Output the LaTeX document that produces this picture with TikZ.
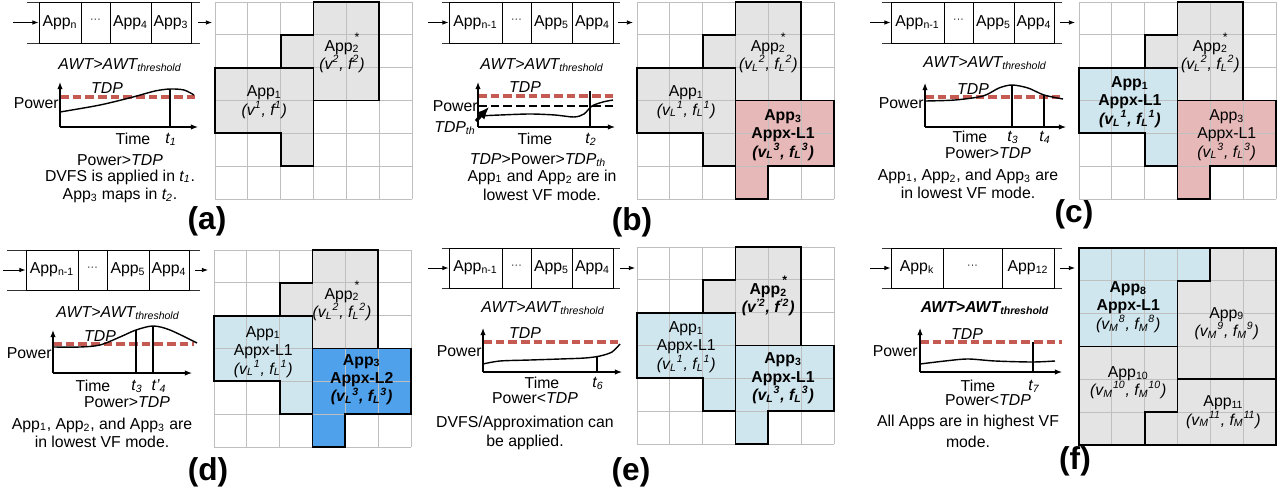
\documentclass[tikz,border=0pt]{standalone}
\usepackage{fontspec}
\setmainfont{Liberation Sans}
\usetikzlibrary{arrows.meta}
\definecolor{regGray}{HTML}{E4E4E4}
\definecolor{regPink}{HTML}{E6B9B8}
\definecolor{regLBlue}{HTML}{CFE6EE}
\definecolor{regBlue}{HTML}{4FA1EC}
\definecolor{tdpRed}{HTML}{C55A52}
\newcommand{\fs}{\fontsize{9}{10.5}\selectfont}
\newcommand{\sbs}[1]{\textsubscript{#1}}
\newcommand{\sps}[1]{\textsuperscript{#1}}
\newcommand{\appstar}{App\sbs{2}\llap{\raisebox{1.15ex}{\fontsize{7}{7}\selectfont *}}}
\newcommand{\qdots}{{\fontsize{6}{7}\selectfont\raisebox{0.5ex}{···}}}
\newcommand{\cellgrid}{\foreach \i in {0,...,6} {\draw[gridl] (\i,0) -- (\i,6); \draw[gridl] (0,\i) -- (6,\i);}}
\newcommand{\shapeOne}[1]{\path[#1] (0,2) -- (3,2) -- (3,5) -- (2,5) -- (2,4) -- (0,4) -- cycle;}
\newcommand{\shapeTwo}[1]{\path[#1] (3,0) -- (5,0) -- (5,3) -- (3,3) -- (3,2) -- (2,2) -- (2,1) -- (3,1) -- cycle;}
\newcommand{\shapeThree}[1]{\path[#1] (3,3) -- (6,3) -- (6,5) -- (4,5) -- (4,6) -- (3,6) -- cycle;}
\def\px{0.02cm}
\def\cell{0.6566cm}
\tikzset{
  qcell/.style={draw, line width=0.5pt, minimum height={41*\px}, inner sep=0pt, font=\fs},
  qline/.style={line width=0.5pt, draw=black!80},
  qarrow/.style={-{Latex[length=3.5pt,width=2.6pt]}, line width=0.5pt},
  gridl/.style={draw=black!25, line width=0.5pt},
  region/.style={draw=black, line width=1.1pt, line join=miter},
  tdp/.style={draw=tdpRed, line width=1.9pt, dash pattern=on 5pt off 2.2pt},
  blackdash/.style={draw=black, line width=1.7pt, dash pattern=on 5pt off 2.2pt},
  axis/.style={-{Latex[length=4pt,width=3pt]}, line width=0.6pt},
  curve/.style={line width=0.8pt},
  tthick/.style={line width=1.3pt},
  tthin/.style={line width=0.9pt},
  lbl/.style={font=\fs, inner sep=0pt},
  glbl/.style={font=\fs, inner sep=0pt, align=center},
  panellbl/.style={font=\fontsize{18}{20}\selectfont\bfseries, inner sep=0pt}
}
\begin{document}
\begin{tikzpicture}[x=0.02cm, y=-0.02cm]
\useasboundingbox (0,0) rectangle (1282,490);

%%%%%%%%%%%%%%%% (a)
\draw[qline] (27,2) -- (200,2);
\draw[qline] (27,43) -- (200,43);
\node[qcell, minimum width={42*\px}] (a-q1) at (60,22.5) {App\sbs{n}};
\node[qcell, minimum width={29*\px}] (a-q2) at (95.5,22.5) {\qdots};
\node[qcell, minimum width={41*\px}] (a-q3) at (130.5,22.5) {App\sbs{4}};
\node[qcell, minimum width={40*\px}] (a-q4) at (171,22.5) {App\sbs{3}};
\coordinate (a-in) at (13,22.5);
\coordinate (a-out1) at (198,22.5);
\coordinate (a-out2) at (212,22.5);
\draw[qarrow] (a-in) -- (a-q1);
\draw[qarrow] (a-out1) -- (a-out2);
\node[lbl] (a-awt) at (120,65) {\textit{AWT>AWT\sbs{threshold}}};
\coordinate (a-o) at (60,127); \coordinate (a-yt) at (60,82); \coordinate (a-xr) at (198,127);
\coordinate (a-d1) at (60,97); \coordinate (a-d2) at (198,97);
\draw[tdp] (a-d1) -- (a-d2);
\draw[axis] (a-o) -- (a-yt);
\draw[axis] (a-o) -- (a-xr);
\draw[curve] plot[smooth] coordinates {(60,112) (100,105) (133,97) (155,91) (170,89) (184,90) (194,95)};
\coordinate (a-t1a) at (170,89); \coordinate (a-t1b) at (170,127);
\draw[tthick] (a-t1a) -- (a-t1b);
\node[lbl] (a-tdp) at (107,88) {\textit{TDP}};
\node[lbl, anchor=east] (a-pow) at (59,103) {Power};
\node[lbl] (a-time) at (133,139) {Time};
\node[lbl] (a-t1) at (171,139) {\textit{t\sbs{1}}};
\node[lbl] (a-c1) at (120,160) {Power>\textit{TDP}};
\node[lbl] (a-c2) at (120,177) {DVFS is applied in \textit{t\sbs{1}}.};
\node[lbl] (a-c3) at (120,195) {App\sbs{3} maps in \textit{t\sbs{2}}.};
\node[panellbl] (a-lab) at (207,221) {(a)};
\begin{scope}[shift={(215,2)}, x=\cell, y=-\cell]
  \shapeOne{fill=regGray}
  \shapeTwo{fill=regGray}
  \cellgrid
  \shapeOne{region}
  \shapeTwo{region}
  \node[glbl] (a-app1) at (1.5,3.05) {App\sbs{1}\\\textit{(v\sps{1}, f\sps{1})}};
  \node[glbl] (a-app2) at (3.87,1.55) {\appstar\\\textit{(v\sps{2}, f\sps{2})}};
\end{scope}

%%%%%%%%%%%%%%%% (b)
\draw[qline] (442,2) -- (620,2);
\draw[qline] (442,43) -- (620,43);
\node[qcell, minimum width={53*\px}] (b-q1) at (475.5,22.5) {App\sbs{n-1}};
\node[qcell, minimum width={29*\px}] (b-q2) at (516.5,22.5) {\qdots};
\node[qcell, minimum width={41*\px}] (b-q3) at (551.5,22.5) {App\sbs{5}};
\node[qcell, minimum width={41*\px}] (b-q4) at (592.5,22.5) {App\sbs{4}};
\coordinate (b-in) at (428,22.5);
\coordinate (b-out1) at (618,22.5);
\coordinate (b-out2) at (633,22.5);
\draw[qarrow] (b-in) -- (b-q1);
\draw[qarrow] (b-out1) -- (b-out2);
\node[lbl] (b-awt) at (542,65) {\textit{AWT>AWT\sbs{threshold}}};
\coordinate (b-o) at (478,127); \coordinate (b-yt) at (478,82); \coordinate (b-xr) at (615,127);
\coordinate (b-d1) at (478,96); \coordinate (b-d2) at (613,96);
\coordinate (b-e1) at (478,106); \coordinate (b-e2) at (613,106);
\draw[tdp] (b-d1) -- (b-d2);
\draw[blackdash] (b-e1) -- (b-e2);
\draw[axis] (b-o) -- (b-yt);
\draw[axis] (b-o) -- (b-xr);
\draw[curve] plot[smooth] coordinates {(478,116) (500,115) (530,114) (555,115) (574,117) (584,114) (592,106) (603,102) (613,100)};
\coordinate (b-t2a) at (590,91); \coordinate (b-t2b) at (590,127);
\draw[tthin] (b-t2a) -- (b-t2b);
\node[lbl] (b-tdp) at (525,87) {\textit{TDP}};
\node[lbl, anchor=east] (b-pow) at (478,106) {Power};
\node[lbl] (b-tdpth) at (455,128) {\textit{TDP\sbs{th}}};
\coordinate (b-arr) at (489,107);
\draw[line width=1.8pt, -{Latex[length=7pt,width=6pt]}] (b-tdpth.north east) -- (b-arr);
\node[lbl] (b-time) at (535,139) {Time};
\node[lbl] (b-t2) at (591,139) {\textit{t\sbs{2}}};
\node[lbl] (b-c1) at (538,160) {\textit{TDP}>Power>\textit{TDP\sbs{th}}};
\node[lbl] (b-c2) at (542,177) {App\sbs{1} and App\sbs{2} are in};
\node[lbl] (b-c3) at (542,195) {lowest VF mode.};
\node[panellbl] (b-lab) at (632,222) {(b)};
\begin{scope}[shift={(637,2)}, x=\cell, y=-\cell]
  \shapeOne{fill=regGray}
  \shapeTwo{fill=regGray}
  \shapeThree{fill=regPink}
  \cellgrid
  \shapeOne{region}
  \shapeTwo{region}
  \shapeThree{region}
  \node[glbl] (b-app1) at (1.5,3.05) {App\sbs{1}\\\textit{(v\sbs{L}\sps{1}, f\sbs{L}\sps{1})}};
  \node[glbl] (b-app2) at (4.0,1.55) {\appstar\\\textit{(v\sbs{L}\sps{2}, f\sbs{L}\sps{2})}};
  \node[glbl, font=\fs\bfseries] (b-app3) at (4.45,4.05) {App\sbs{3}\\Appx-L1\\\textit{(v\sbs{L}\sps{3}, f\sbs{L}\sps{3})}};
\end{scope}

%%%%%%%%%%%%%%%% (c)
\draw[qline] (882,2) -- (1062,2);
\draw[qline] (882,43) -- (1062,43);
\node[qcell, minimum width={53*\px}] (c-q1) at (917.5,22.5) {App\sbs{n-1}};
\node[qcell, minimum width={29*\px}] (c-q2) at (958.5,22.5) {\qdots};
\node[qcell, minimum width={41*\px}] (c-q3) at (993.5,22.5) {App\sbs{5}};
\node[qcell, minimum width={40*\px}] (c-q4) at (1034,22.5) {App\sbs{4}};
\coordinate (c-in) at (870,22.5);
\coordinate (c-out1) at (1060,22.5);
\coordinate (c-out2) at (1075,22.5);
\draw[qarrow] (c-in) -- (c-q1);
\draw[qarrow] (c-out1) -- (c-out2);
\node[lbl] (c-awt) at (985,63) {\textit{AWT>AWT\sbs{threshold}}};
\coordinate (c-o) at (925,127); \coordinate (c-yt) at (925,83); \coordinate (c-xr) at (1066,127);
\coordinate (c-d1) at (925,97); \coordinate (c-d2) at (1062,97);
\draw[tdp] (c-d1) -- (c-d2);
\draw[axis] (c-o) -- (c-yt);
\draw[axis] (c-o) -- (c-xr);
\draw[curve] plot[smooth] coordinates {(925,101) (955,100) (983,96) (999,88) (1012,85) (1028,88) (1044,95) (1063,99)};
\coordinate (c-t3a) at (1012,85); \coordinate (c-t3b) at (1012,127);
\coordinate (c-t4a) at (1044,95); \coordinate (c-t4b) at (1044,127);
\draw[tthin] (c-t3a) -- (c-t3b);
\draw[tthin] (c-t4a) -- (c-t4b);
\node[lbl] (c-tdp) at (973,89) {\textit{TDP}};
\node[lbl, anchor=east] (c-pow) at (924,103) {Power};
\node[lbl] (c-time) at (970,137) {Time};
\node[lbl] (c-t3) at (1013,137) {\textit{t\sbs{3}}};
\node[lbl] (c-t4) at (1045,137) {\textit{t\sbs{4}}};
\node[lbl] (c-c1) at (988,153) {Power>\textit{TDP}};
\node[lbl] (c-c2) at (968,176) {App\sbs{1}, App\sbs{2}, and App\sbs{3} are};
\node[lbl] (c-c3) at (968,193) {in lowest VF mode.};
\node[panellbl] (c-lab) at (1074,214) {(c)};
\begin{scope}[shift={(1079,2)}, x=\cell, y=-\cell]
  \shapeOne{fill=regLBlue}
  \shapeTwo{fill=regGray}
  \shapeThree{fill=regPink}
  \cellgrid
  \shapeOne{region}
  \shapeTwo{region}
  \shapeThree{region}
  \node[glbl, font=\fs\bfseries] (c-app1) at (1.55,3.05) {App\sbs{1}\\Appx-L1\\\textit{(v\sbs{L}\sps{1}, f\sbs{L}\sps{1})}};
  \node[glbl] (c-app2) at (4.0,1.55) {\appstar\\\textit{(v\sbs{L}\sps{2}, f\sbs{L}\sps{2})}};
  \node[glbl] (c-app3) at (4.5,4.05) {App\sbs{3}\\Appx-L1\\\textit{(v\sbs{L}\sps{3}, f\sbs{L}\sps{3})}};
\end{scope}

%%%%%%%%%%%%%%%% (d)
\draw[qline] (7,250) -- (200,250);
\draw[qline] (7,290) -- (200,290);
\node[qcell, minimum width={52*\px}, minimum height={40*\px}] (d-q1) at (52,270) {App\sbs{n-1}};
\node[qcell, minimum width={29*\px}, minimum height={40*\px}] (d-q2) at (92.5,270) {\qdots};
\node[qcell, minimum width={42*\px}, minimum height={40*\px}] (d-q3) at (128,270) {App\sbs{5}};
\node[qcell, minimum width={40*\px}, minimum height={40*\px}] (d-q4) at (169,270) {App\sbs{4}};
\coordinate (d-in) at (3,270);
\coordinate (d-out1) at (195,270);
\coordinate (d-out2) at (208,270);
\draw[qarrow] (d-in) -- (d-q1);
\draw[qarrow] (d-out1) -- (d-out2);
\node[lbl] (d-awt) at (118,313) {\textit{AWT>AWT\sbs{threshold}}};
\coordinate (d-o) at (53,373); \coordinate (d-yt) at (53,330); \coordinate (d-xr) at (192,373);
\coordinate (d-d1) at (53,344); \coordinate (d-d2) at (194,344);
\draw[tdp] (d-d1) -- (d-d2);
\draw[axis] (d-o) -- (d-yt);
\draw[axis] (d-o) -- (d-xr);
\draw[curve] plot[smooth] coordinates {(53,347) (80,347) (100,345) (120,337) (136,330) (153,326) (170,330) (197,343)};
\coordinate (d-t3a) at (136,330); \coordinate (d-t3b) at (136,373);
\coordinate (d-t4a) at (153,326); \coordinate (d-t4b) at (153,373);
\draw[tthin] (d-t3a) -- (d-t3b);
\draw[tthick] (d-t4a) -- (d-t4b);
\node[lbl] (d-tdp) at (100,336) {\textit{TDP}};
\node[lbl, anchor=east] (d-pow) at (52,353) {Power};
\node[lbl] (d-time) at (93,386) {Time};
\node[lbl] (d-t3) at (137,386) {\textit{t\sbs{3}}};
\node[lbl] (d-t4) at (159,386) {\textit{t'\sbs{4}}};
\node[lbl] (d-c1) at (127,402) {Power>\textit{TDP}};
\node[lbl] (d-c2) at (102,425) {App\sbs{1}, App\sbs{2}, and App\sbs{3} are};
\node[lbl] (d-c3) at (102,442) {in lowest VF mode.};
\node[panellbl] (d-lab) at (208,472) {(d)};
\begin{scope}[shift={(214,250)}, x=\cell, y=-\cell]
  \shapeOne{fill=regLBlue}
  \shapeTwo{fill=regGray}
  \shapeThree{fill=regBlue}
  \cellgrid
  \shapeOne{region}
  \shapeTwo{region}
  \shapeThree{region}
  \node[glbl] (d-app1) at (1.5,3.1) {App\sbs{1}\\Appx-L1\\\textit{(v\sbs{L}\sps{1}, f\sbs{L}\sps{1})}};
  \node[glbl] (d-app2) at (3.9,1.55) {\appstar\\\textit{(v\sbs{L}\sps{2}, f\sbs{L}\sps{2})}};
  \node[glbl, font=\fs\bfseries] (d-app3) at (4.5,3.95) {App\sbs{3}\\Appx-L2\\\textit{(v\sbs{L}\sps{3}, f\sbs{L}\sps{3})}};
\end{scope}

%%%%%%%%%%%%%%%% (e)
\draw[qline] (442,248) -- (620,248);
\draw[qline] (442,288) -- (620,288);
\node[qcell, minimum width={53*\px}, minimum height={40*\px}] (e-q1) at (475.5,268) {App\sbs{n-1}};
\node[qcell, minimum width={29*\px}, minimum height={40*\px}] (e-q2) at (516.5,268) {\qdots};
\node[qcell, minimum width={41*\px}, minimum height={40*\px}] (e-q3) at (551.5,268) {App\sbs{5}};
\node[qcell, minimum width={41*\px}, minimum height={40*\px}] (e-q4) at (592.5,268) {App\sbs{4}};
\coordinate (e-in) at (428,268);
\coordinate (e-out1) at (620,268);
\coordinate (e-out2) at (635,268);
\draw[qarrow] (e-in) -- (e-q1);
\draw[qarrow] (e-out1) -- (e-out2);
\node[lbl] (e-awt) at (543,308) {\textit{AWT>AWT\sbs{threshold}}};
\coordinate (e-o) at (483,372); \coordinate (e-yt) at (483,328); \coordinate (e-xr) at (622,372);
\coordinate (e-d1) at (483,342); \coordinate (e-d2) at (620,342);
\draw[tdp] (e-d1) -- (e-d2);
\draw[axis] (e-o) -- (e-yt);
\draw[axis] (e-o) -- (e-xr);
\draw[curve] plot[smooth] coordinates {(483,364) (500,361) (530,360) (560,359) (585,358) (600,356) (612,352) (620,344)};
\coordinate (e-t6a) at (597,357); \coordinate (e-t6b) at (597,372);
\draw[tthin] (e-t6a) -- (e-t6b);
\node[lbl] (e-tdp) at (525,333) {\textit{TDP}};
\node[lbl, anchor=east] (e-pow) at (482,351) {Power};
\node[lbl] (e-time) at (542,383) {Time};
\node[lbl] (e-t6) at (598,383) {\textit{t\sbs{6}}};
\node[lbl] (e-c1) at (535,398) {Power<\textit{TDP}};
\node[lbl] (e-c2) at (525,423) {DVFS/Approximation can};
\node[lbl] (e-c3) at (525,442) {be applied.};
\node[panellbl] (e-lab) at (631,472) {(e)};
\begin{scope}[shift={(637,247)}, x=\cell, y=-\cell]
  \shapeOne{fill=regLBlue}
  \shapeTwo{fill=regGray}
  \shapeThree{fill=regLBlue}
  \cellgrid
  \shapeOne{region}
  \shapeTwo{region}
  \shapeThree{region}
  \node[glbl] (e-app1) at (1.5,3.05) {App\sbs{1}\\Appx-L1\\\textit{(v\sbs{L}\sps{1}, f\sbs{L}\sps{1})}};
  \node[glbl, font=\fs\bfseries] (e-app2) at (4.0,1.5) {\appstar\\\textit{(v\sps{'2}, f\sps{'2})}};
  \node[glbl, font=\fs\bfseries] (e-app3) at (4.45,4.0) {App\sbs{3}\\Appx-L1\\\textit{(v\sbs{L}\sps{3}, f\sbs{L}\sps{3})}};
\end{scope}

%%%%%%%%%%%%%%%% (f)
\draw[qline] (882,248) -- (1062,248);
\draw[qline] (882,288) -- (1062,288);
\node[qcell, minimum width={52*\px}, minimum height={40*\px}] (f-q1) at (917,268) {App\sbs{k}};
\node[qcell, minimum width={59*\px}, minimum height={40*\px}] (f-q2) at (972.5,268) {\qdots};
\node[qcell, minimum width={52*\px}, minimum height={40*\px}] (f-q3) at (1028,268) {App\sbs{12}};
\coordinate (f-in) at (870,268);
\coordinate (f-out1) at (1060,268);
\coordinate (f-out2) at (1075,268);
\draw[qarrow] (f-in) -- (f-q1);
\draw[qarrow] (f-out1) -- (f-out2);
\node[lbl] (f-awt) at (985,308) {\textbf{\textit{AWT>AWT\sbs{threshold}}}};
\coordinate (f-o) at (920,372); \coordinate (f-yt) at (920,328); \coordinate (f-xr) at (1062,372);
\coordinate (f-d1) at (920,342); \coordinate (f-d2) at (1062,342);
\draw[tdp] (f-d1) -- (f-d2);
\draw[axis] (f-o) -- (f-yt);
\draw[axis] (f-o) -- (f-xr);
\draw[curve] plot[smooth] coordinates {(920,364) (945,361) (968,359) (995,361) (1032,362) (1055,361)};
\coordinate (f-t7a) at (1033,342); \coordinate (f-t7b) at (1033,372);
\draw[tthick] (f-t7a) -- (f-t7b);
\node[lbl] (f-tdp) at (967,334) {\textit{TDP}};
\node[lbl, anchor=east] (f-pow) at (918,351) {Power};
\node[lbl] (f-time) at (978,386) {Time};
\node[lbl] (f-t7) at (1034,386) {\textit{t\sbs{7}}};
\node[lbl] (f-c1) at (988,400) {Power<\textit{TDP}};
\node[lbl] (f-c2) at (968,422) {All Apps are in highest VF};
\node[lbl] (f-c3) at (968,442) {mode.};
\node[panellbl] (f-lab) at (1075,461) {(f)};
\begin{scope}[shift={(1079,248)}, x=\cell, y=-\cell]
  \path[fill=regLBlue] (0,0) -- (4,0) -- (4,1) -- (3,1) -- (3,3) -- (0,3) -- cycle;
  \path[fill=regGray] (4,0) -- (6,0) -- (6,4) -- (3,4) -- (3,1) -- (4,1) -- cycle;
  \path[fill=regGray] (0,3) -- (3,3) -- (3,5) -- (2,5) -- (2,6) -- (0,6) -- cycle;
  \path[fill=regGray] (3,4) -- (6,4) -- (6,6) -- (2,6) -- (2,5) -- (3,5) -- cycle;
  \cellgrid
  \path[region] (0,0) -- (4,0) -- (4,1) -- (3,1) -- (3,3) -- (0,3) -- cycle;
  \path[region] (4,0) -- (6,0) -- (6,4) -- (3,4) -- (3,1) -- (4,1) -- cycle;
  \path[region] (0,3) -- (3,3) -- (3,5) -- (2,5) -- (2,6) -- (0,6) -- cycle;
  \path[region] (3,4) -- (6,4) -- (6,6) -- (2,6) -- (2,5) -- (3,5) -- cycle;
  \node[glbl, font=\fs\bfseries] (f-app8) at (1.5,1.8) {App\sbs{8}\\Appx-L1\\\textmd{\textit{(v\sbs{M}\sps{8}, f\sbs{M}\sps{8})}}};
  \node[glbl] (f-app9) at (4.5,2.3) {App\sbs{9}\\\textit{(v\sbs{M}\sps{9}, f\sbs{M}\sps{9})}};
  \node[glbl] (f-app10) at (1.5,4.1) {App\sbs{10}\\\textit{(v\sbs{M}\sps{10}, f\sbs{M}\sps{10})}};
  \node[glbl] (f-app11) at (4.4,5.0) {App\sbs{11}\\\textit{(v\sbs{M}\sps{11}, f\sbs{M}\sps{11})}};
\end{scope}
\end{tikzpicture}
\end{document}
